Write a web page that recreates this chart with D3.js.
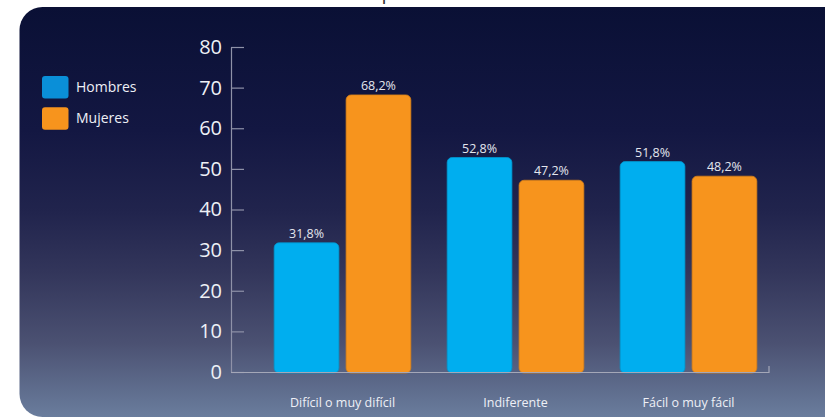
<!DOCTYPE html>
<html><head><meta charset="utf-8">
<script src="https://cdn.jsdelivr.net/npm/d3@7"></script>
<style>
html,body{margin:0;padding:0;background:#fff;}
svg{display:block;font-family:"Open Sans",sans-serif;}
</style></head>
<body>
<svg id="chart" width="825" height="418"></svg>
<script>
const categories = ["Difícil o muy difícil", "Indiferente", "Fácil o muy fácil"];
const seriesNames = ["Hombres", "Mujeres"];
const hombres = [31.8, 52.8, 51.8];
const mujeres = [68.2, 47.2, 48.2];
const valueLabelsH = ["31,8%", "52,8%", "51,8%"];
const valueLabelsM = ["68,2%", "47,2%", "48,2%"];
const yTicks = [0, 10, 20, 30, 40, 50, 60, 70, 80];
const titleFragment = "p";

const barColors = ["#00aeef", "#f7941d"];
const legendColors = ["#0a8fd8", "#f7941d"];

const svg = d3.select("#chart");
const defs = svg.append("defs");
const grad = defs.append("linearGradient").attr("id", "bg")
  .attr("gradientUnits", "userSpaceOnUse").attr("x1", 0).attr("x2", 0).attr("y1", 7).attr("y2", 417);
[[0, "#0a1035"], [0.3, "#131742"], [0.5, "#21244d"], [0.65, "#33365b"], [0.82, "#4b5172"], [1, "#6a7d9d"]]
  .forEach(([o, c]) => grad.append("stop").attr("offset", o).attr("stop-color", c));

// title fragment above the panel
svg.append("text").attr("x", 381.5).attr("y", -1).attr("font-size", 20).attr("fill", "#333")
  .text(titleFragment);

// panel
svg.append("rect").attr("x", 19.5).attr("y", 7).attr("width", 830).attr("height", 410)
  .attr("rx", 23).attr("fill", "url(#bg)");

const y = d3.scaleLinear().domain([0, 80]).range([372, 47]);
const x0 = d3.scaleBand().domain(categories).range([256, 775]).paddingInner(0.21).paddingOuter(0.105);
const x1 = d3.scaleBand().domain(seriesNames).range([0, x0.bandwidth()]).paddingInner(0.1);

const data = categories.map((c, i) => ({
  cat: c,
  vals: [
    {s: seriesNames[0], v: hombres[i], lab: valueLabelsH[i]},
    {s: seriesNames[1], v: mujeres[i], lab: valueLabelsM[i]}
  ]
}));

// y axis
const yAxis = svg.append("g").attr("transform", "translate(231,0)")
  .call(d3.axisLeft(y).tickValues(yTicks).tickSize(-13).tickSizeOuter(0).tickPadding(9));
yAxis.select(".domain").attr("stroke", "#8f92a8").attr("stroke-width", 1.2);
yAxis.selectAll(".tick line").attr("stroke", "#8f92a8").attr("stroke-width", 1.2);
yAxis.selectAll(".tick text").attr("fill", "#eef0f6").attr("font-size", 20)
  .attr("font-family", "'Open Sans',sans-serif");

// bars
const groups = svg.append("g").selectAll("g").data(data).join("g")
  .attr("transform", d => `translate(${x0(d.cat)},0)`);
groups.selectAll("rect").data(d => d.vals).join("rect")
  .attr("x", d => x1(d.s)).attr("width", x1.bandwidth())
  .attr("y", d => y(d.v)).attr("height", d => y(0) - y(d.v) + 1)
  .attr("rx", 5)
  .attr("fill", (d, i) => barColors[i])
  .attr("stroke", (d, i) => d3.color(barColors[i]).darker(0.4))
  .attr("stroke-width", 0.8);
groups.selectAll("text").data(d => d.vals).join("text")
  .attr("x", d => x1(d.s) + x1.bandwidth() / 2).attr("y", d => y(d.v) - 5)
  .attr("text-anchor", "middle").attr("font-size", 12.5).attr("fill", "#e4e6ee")
  .text(d => d.lab);

// x axis line
svg.append("path").attr("d", "M231,372.5H769V366")
  .attr("fill", "none").attr("stroke", "#a4a7b8").attr("stroke-width", 1.2);

const xAxis = svg.append("g").attr("transform", "translate(0,372)")
  .call(d3.axisBottom(x0).tickSize(0).tickPadding(26));
xAxis.select(".domain").remove();
xAxis.selectAll(".tick text").attr("fill", "#eef0f6").attr("font-size", 12.5)
  .attr("font-family", "'Open Sans',sans-serif");

// legend
const legend = svg.append("g").selectAll("g").data(seriesNames).join("g")
  .attr("transform", (d, i) => `translate(42,${76 + i * 31.3})`);
legend.append("rect").attr("width", 26.5).attr("height", 22.5).attr("rx", 3)
  .attr("fill", (d, i) => legendColors[i]);
legend.append("text").attr("x", 34).attr("y", 15.5).attr("font-size", 14)
  .attr("fill", "#eef0f6").text(d => d);
</script>
</body></html>
